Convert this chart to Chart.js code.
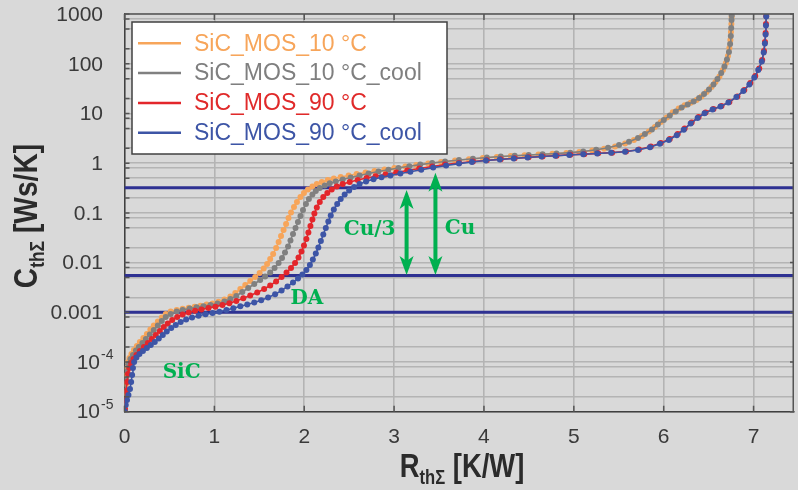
<!DOCTYPE html>
<html>
<head>
<meta charset="utf-8">
<script src="https://cdn.jsdelivr.net/npm/chart.js@4/dist/chart.umd.min.js"></script>
<style>
  html, body { margin: 0; padding: 0; background: #d9d9d9; overflow: hidden; }
  #wrap { width: 798px; height: 490px; }
</style>
</head>
<body>
<div id="wrap"><canvas id="chart" width="798" height="490"></canvas></div>
<script>
// Cumulative structure functions: thermal resistance R [K/W] vs. thermal capacitance C [Ws/K]
const seriesLabels = ['SiC_MOS_10 °C', 'SiC_MOS_10 °C_cool', 'SiC_MOS_90 °C', 'SiC_MOS_90 °C_cool'];
const seriesColors = ['#f7a55a', '#808080', '#e3262b', '#3d55a6'];
const legendTextColors = ['#f7a55a', '#7f7f7f', '#e02a2a', '#3d55a6'];

const mos10 = [
  [0.003,1.03e-5],[0.008,1.57e-5],[0.012,2.38e-5],[0.017,3.61e-5],[0.022,5.47e-5],[0.030,7.57e-5],
  [0.041,1.0e-4],[0.055,1.20e-4],[0.077,1.45e-4],[0.105,1.74e-4],[0.138,2.10e-4],[0.171,2.52e-4],
  [0.210,3.04e-4],[0.249,3.66e-4],[0.288,4.51e-4],[0.326,5.42e-4],[0.371,6.53e-4],[0.415,7.86e-4],
  [0.459,9.25e-4],[0.514,1.04e-3],[0.581,1.11e-3],[0.647,1.18e-3],[0.714,1.23e-3],[0.780,1.29e-3],
  [0.846,1.35e-3],[0.913,1.43e-3],[0.979,1.51e-3],[1.045,1.63e-3],[1.112,1.81e-3],[1.178,2.08e-3],
  [1.233,2.44e-3],[1.289,2.94e-3],[1.344,3.54e-3],[1.399,4.26e-3],[1.455,5.13e-3],[1.504,6.18e-3],
  [1.549,7.61e-3],[1.587,9.37e-3],[1.621,0.0118],[1.654,0.0149],[1.687,0.0197],[1.715,0.0260],
  [1.742,0.0343],[1.770,0.0453],[1.798,0.0598],[1.825,0.0789],[1.853,0.102],[1.886,0.131],
  [1.919,0.166],[1.958,0.209],[1.997,0.251],[2.041,0.296],[2.091,0.340],[2.140,0.381],
  [2.196,0.418],[2.262,0.459],[2.329,0.492],[2.406,0.527],[2.494,0.566],[2.583,0.607],
  [2.682,0.650],[2.782,0.697],[2.893,0.747],[3.003,0.800],[3.125,0.859],[3.247,0.920],
  [3.379,0.986],[3.523,1.057],[3.678,1.133],[3.833,1.203],[3.988,1.27],[4.143,1.33],
  [4.298,1.40],[4.452,1.44],[4.607,1.50],[4.762,1.55],[4.917,1.60],[5.061,1.68],
  [5.205,1.80],[5.337,1.95],[5.459,2.17],[5.570,2.49],[5.669,2.93],[5.758,3.53],
  [5.835,4.34],[5.902,5.35],[5.968,6.74],[6.034,8.31],[6.101,10.6],[6.167,12.6],
  [6.233,14.6],[6.300,16.5],[6.366,18.7],[6.421,22.0],[6.477,27.1],[6.532,34.2],
  [6.576,43.0],[6.620,55.5],[6.659,75.0],[6.692,104],[6.715,143],[6.731,208],
  [6.742,301],[6.748,436],[6.753,632],[6.756,875]
];

const mos10cool = [
  [0.003,1.03e-5],[0.009,1.72e-5],[0.014,2.73e-5],[0.021,4.35e-5],[0.030,6.59e-5],[0.044,9.12e-5],
  [0.066,1.15e-4],[0.094,1.38e-4],[0.127,1.70e-4],[0.160,2.00e-4],[0.199,2.41e-4],[0.238,2.90e-4],
  [0.282,3.57e-4],[0.326,4.40e-4],[0.371,5.42e-4],[0.415,6.68e-4],[0.459,8.04e-4],[0.514,9.25e-4],
  [0.581,1.04e-3],[0.647,1.11e-3],[0.725,1.19e-3],[0.802,1.26e-3],[0.879,1.33e-3],[0.957,1.40e-3],
  [1.034,1.50e-3],[1.112,1.65e-3],[1.178,1.85e-3],[1.244,2.13e-3],[1.311,2.56e-3],[1.377,3.08e-3],
  [1.444,3.71e-3],[1.510,4.47e-3],[1.565,5.25e-3],[1.621,6.32e-3],[1.670,7.79e-3],[1.715,9.81e-3],
  [1.753,0.0124],[1.786,0.0160],[1.820,0.0211],[1.847,0.0279],[1.875,0.0376],[1.903,0.0497],
  [1.930,0.0656],[1.958,0.0867],[1.986,0.114],[2.019,0.151],[2.052,0.190],[2.091,0.234],
  [2.129,0.276],[2.173,0.317],[2.229,0.356],[2.284,0.394],[2.351,0.429],[2.428,0.470],
  [2.517,0.515],[2.616,0.566],[2.716,0.621],[2.826,0.681],[2.937,0.737],[3.048,0.800],
  [3.169,0.871],[3.291,0.937],[3.424,1.01],[3.567,1.08],[3.722,1.16],[3.877,1.23],
  [4.032,1.30],[4.187,1.36],[4.342,1.41],[4.497,1.46],[4.652,1.51],[4.807,1.57],
  [4.961,1.63],[5.105,1.72],[5.249,1.86],[5.381,2.04],[5.503,2.32],[5.614,2.70],
  [5.714,3.21],[5.791,3.87],[5.869,4.76],[5.935,6.01],[6.001,7.40],[6.068,9.12],
  [6.134,11.0],[6.200,13.2],[6.267,15.2],[6.333,17.4],[6.394,20.5],[6.449,24.7],
  [6.504,30.4],[6.554,38.3],[6.598,49.4],[6.640,65.3],[6.676,88.3],[6.704,122],
  [6.726,173],[6.739,250],[6.747,362],[6.751,525],[6.755,761],[6.757,937]
];

const mos90 = [
  [0.006,1.13e-5],[0.011,1.72e-5],[0.019,2.61e-5],[0.028,3.96e-5],[0.039,5.74e-5],[0.053,7.57e-5],
  [0.072,9.55e-5],[0.100,1.15e-4],[0.133,1.38e-4],[0.171,1.66e-4],[0.216,2.00e-4],[0.260,2.41e-4],
  [0.304,2.90e-4],[0.348,3.49e-4],[0.393,4.21e-4],[0.437,5.06e-4],[0.481,5.95e-4],[0.531,7.00e-4],
  [0.586,8.04e-4],[0.647,9.04e-4],[0.714,9.91e-4],[0.785,1.07e-3],[0.857,1.14e-3],[0.935,1.22e-3],
  [1.012,1.30e-3],[1.090,1.40e-3],[1.167,1.52e-3],[1.244,1.69e-3],[1.322,1.91e-3],[1.399,2.18e-3],
  [1.477,2.50e-3],[1.554,2.94e-3],[1.621,3.46e-3],[1.687,4.17e-3],[1.748,5.13e-3],[1.803,6.32e-3],
  [1.853,7.79e-3],[1.898,9.81e-3],[1.936,0.0127],[1.969,0.0167],[1.997,0.0221],[2.024,0.0299],
  [2.046,0.0404],[2.069,0.0545],[2.091,0.0736],[2.113,0.0973],[2.140,0.129],[2.173,0.166],
  [2.212,0.209],[2.257,0.251],[2.306,0.296],[2.362,0.340],[2.428,0.381],[2.506,0.418],
  [2.594,0.459],[2.694,0.504],[2.793,0.547],[2.904,0.593],[3.025,0.650],[3.147,0.713],
  [3.280,0.782],[3.424,0.859],[3.567,0.937],[3.722,1.01],[3.877,1.08],[4.032,1.14],
  [4.187,1.20],[4.342,1.26],[4.497,1.31],[4.652,1.37],[4.807,1.42],[4.961,1.48],
  [5.116,1.52],[5.271,1.58],[5.426,1.63],[5.581,1.72],[5.725,1.89],[5.857,2.17],
  [5.968,2.55],[6.068,3.07],[6.156,3.87],[6.233,4.99],[6.311,6.59],[6.388,8.51],
  [6.466,10.5],[6.554,12.3],[6.643,14.2],[6.731,17.0],[6.820,22.0],[6.897,29.7],
  [6.964,41.1],[7.019,56.9],[7.063,80.4],[7.096,119],[7.116,181],[7.127,275],
  [7.134,417],[7.138,632],[7.141,916]
];

const mos90cool = [
  [0.003,1.01e-5],[0.014,1.36e-5],[0.028,1.72e-5],[0.044,2.17e-5],[0.061,2.86e-5],[0.074,3.96e-5],
  [0.085,5.47e-5],[0.094,7.57e-5],[0.107,1.0e-4],[0.133,1.23e-4],[0.166,1.45e-4],[0.205,1.66e-4],
  [0.249,1.91e-4],[0.293,2.20e-4],[0.337,2.52e-4],[0.382,2.97e-4],[0.426,3.49e-4],[0.470,4.11e-4],
  [0.520,4.83e-4],[0.570,5.55e-4],[0.625,6.38e-4],[0.686,7.16e-4],[0.752,7.86e-4],[0.824,8.51e-4],
  [0.902,9.12e-4],[0.979,9.68e-4],[1.056,1.03e-3],[1.134,1.11e-3],[1.211,1.21e-3],[1.289,1.32e-3],
  [1.366,1.44e-3],[1.444,1.57e-3],[1.521,1.75e-3],[1.598,1.99e-3],[1.676,2.30e-3],[1.748,2.75e-3],
  [1.814,3.31e-3],[1.875,3.98e-3],[1.931,4.79e-3],[1.980,5.76e-3],[2.024,7.10e-3],[2.063,8.95e-3],
  [2.096,0.0115],[2.129,0.0152],[2.157,0.0201],[2.185,0.0272],[2.212,0.0367],[2.240,0.0497],
  [2.268,0.0671],[2.295,0.0887],[2.329,0.117],[2.367,0.151],[2.406,0.190],[2.450,0.234],
  [2.500,0.282],[2.555,0.332],[2.616,0.381],[2.688,0.429],[2.771,0.474],[2.860,0.520],
  [2.959,0.566],[3.070,0.618],[3.181,0.675],[3.302,0.740],[3.435,0.815],[3.579,0.899],
  [3.722,0.982],[3.866,1.06],[4.021,1.13],[4.176,1.19],[4.331,1.24],[4.485,1.30],
  [4.640,1.36],[4.795,1.41],[4.950,1.46],[5.105,1.51],[5.260,1.57],[5.415,1.62],
  [5.570,1.70],[5.714,1.84],[5.847,2.10],[5.957,2.46],[6.057,2.93],[6.145,3.66],
  [6.223,4.70],[6.300,6.29],[6.377,8.11],[6.455,10.1],[6.544,12.0],[6.632,13.8],
  [6.720,16.6],[6.809,21.5],[6.886,28.4],[6.953,38.3],[7.008,53.0],[7.052,75.0],
  [7.091,111],[7.113,169],[7.126,256],[7.134,389],[7.138,590],[7.141,895]
];

// Reference capacitance levels (horizontal lines)
const levelLines = [0.32, 0.0055, 0.001];

// Layer annotations: text with its position in data coordinates
const layerLabels = ['SiC', 'DA', 'Cu/3', 'Cu'];
const layerLabelX = [0.636, 2.03, 2.727, 3.733];
const layerLabelY = [6.0e-5, 1.85e-3, 0.0453, 0.0474];

// Double arrows: x position, upper and lower end
const arrowX = [3.139, 3.46];
const arrowTop = [0.29, 0.64];
const arrowBottom = [0.0056, 0.0056];

// Axes
const xMin = 0, xMax = 7.45;
const yMin = 1e-5, yMax = 1000;
const xTickValues = [0, 1, 2, 3, 4, 5, 6, 7];
const xTickLabels = ['0', '1', '2', '3', '4', '5', '6', '7'];
const yLabelValues = [1e-5, 1e-4, 1e-3, 0.01, 0.1, 1, 10, 100, 1000];
const yTickLabels = ['10^-5', '10^-4', '0.001', '0.01', '0.1', '1', '10', '100', '1000'];
const yGridValues = [
  1e-5, 2e-5, 5e-5, 8e-5, 1e-4, 2e-4, 5e-4, 8e-4, 1e-3, 2e-3, 5e-3, 8e-3,
  0.01, 0.02, 0.05, 0.08, 0.1, 0.2, 0.5, 0.8, 1, 2, 5, 8,
  10, 20, 50, 80, 100, 200, 500, 800, 1000
];

const GREEN = '#00b050';
const NAVY = '#2e3192';
const AXIS = '#404040';
const GRID = '#b4b4b4';
const TEXT = '#3a3a3a';
const SANS = '"Liberation Sans", Arial, sans-serif';

const toPoints = arr => arr.map(([x, y]) => ({ x, y }));

const seriesData = [mos10, mos10cool, mos90, mos90cool];
const datasets = seriesData.map((d, i) => ({
  label: seriesLabels[i],
  data: toPoints(d),
  borderColor: seriesColors[i],
  backgroundColor: seriesColors[i],
  pointBackgroundColor: seriesColors[i],
  pointBorderWidth: 0,
  pointRadius: 3,
  borderWidth: 1.6,
  tension: 0,
  order: 4 - i
}));
levelLines.forEach(v => datasets.push({
  label: '',
  data: [{ x: xMin, y: v }, { x: xMax, y: v }],
  borderColor: NAVY,
  borderWidth: 3,
  pointRadius: 0,
  order: 10,
  isLevel: true
}));

// Draws a run of text pieces (main text, subscripts) with a narrowed bold face
function drawRich(ctx, parts, scaleX) {
  let total = 0;
  parts.forEach(p => { ctx.font = 'bold ' + p.size + 'px ' + SANS; p.w = ctx.measureText(p.t).width; total += p.w; });
  ctx.save();
  ctx.scale(scaleX, 1);
  let x = -total / 2;
  ctx.textAlign = 'left';
  ctx.textBaseline = 'alphabetic';
  parts.forEach(p => { ctx.font = 'bold ' + p.size + 'px ' + SANS; ctx.fillText(p.t, x, p.dy); x += p.w; });
  ctx.restore();
}

function doubleArrow(ctx, x, yTop, yBot) {
  const hw = 7, hl = 19, notch = 5, sw = 2;
  ctx.fillStyle = GREEN;
  ctx.fillRect(x - sw, yTop + hl - notch, sw * 2, (yBot - yTop) - 2 * (hl - notch));
  ctx.beginPath();
  ctx.moveTo(x, yTop); ctx.lineTo(x + hw, yTop + hl); ctx.lineTo(x, yTop + hl - notch); ctx.lineTo(x - hw, yTop + hl);
  ctx.closePath(); ctx.fill();
  ctx.beginPath();
  ctx.moveTo(x, yBot); ctx.lineTo(x + hw, yBot - hl); ctx.lineTo(x, yBot - hl + notch); ctx.lineTo(x - hw, yBot - hl);
  ctx.closePath(); ctx.fill();
}

const decorations = {
  id: 'decorations',
  beforeDraw(chart) {
    const ctx = chart.ctx;
    ctx.save();
    ctx.fillStyle = '#d9d9d9';
    ctx.fillRect(0, 0, chart.width, chart.height);
    ctx.restore();
  },
  afterDraw(chart) {
    const ctx = chart.ctx;
    const xs = chart.scales.x, ys = chart.scales.y;
    const a = chart.chartArea;
    ctx.save();

    // frame: top and right edges
    ctx.strokeStyle = '#555555';
    ctx.lineWidth = 1.5;
    ctx.beginPath();
    ctx.moveTo(a.left, a.top); ctx.lineTo(a.right, a.top);
    ctx.moveTo(a.right - 0.75, a.top); ctx.lineTo(a.right - 0.75, a.bottom);
    ctx.stroke();

    // inward tick marks
    ctx.beginPath();
    xTickValues.forEach(v => {
      const px = xs.getPixelForValue(v);
      ctx.moveTo(px, a.bottom); ctx.lineTo(px, a.bottom - 6);
      ctx.moveTo(px, a.top); ctx.lineTo(px, a.top + 6);
    });
    yGridValues.forEach(v => {
      const py = ys.getPixelForValue(v);
      ctx.moveTo(a.left, py); ctx.lineTo(a.left + 5, py);
    });
    yLabelValues.forEach(v => {
      const py = ys.getPixelForValue(v);
      ctx.moveTo(a.right - 4, py); ctx.lineTo(a.right, py);
    });
    ctx.stroke();

    // y tick labels
    ctx.fillStyle = TEXT;
    ctx.textBaseline = 'middle';
    yLabelValues.forEach((v, i) => {
      const py = ys.getPixelForValue(v) + 1;
      const lab = yTickLabels[i];
      if (lab.includes('^')) {
        const [b, e] = lab.split('^');
        ctx.font = '21px ' + SANS; ctx.textAlign = 'right';
        ctx.fillText(b, 100, py);
        ctx.font = '14px ' + SANS; ctx.textAlign = 'left';
        ctx.fillText(e, 101, py - 8);
      } else {
        ctx.font = '21px ' + SANS; ctx.textAlign = 'right';
        ctx.fillText(lab, 103, py);
      }
    });

    // x tick labels
    ctx.font = '21px ' + SANS;
    ctx.textAlign = 'center';
    xTickValues.forEach((v, i) => ctx.fillText(xTickLabels[i], xs.getPixelForValue(v), 437));

    // axis titles
    ctx.fillStyle = '#2b2b2b';
    ctx.save();
    ctx.translate(462, 477);
    drawRich(ctx, [{ t: 'R', size: 33, dy: 0 }, { t: 'thΣ', size: 20, dy: 7 }, { t: ' [K/W]', size: 33, dy: 0 }], 0.83);
    ctx.restore();
    ctx.save();
    ctx.translate(37, 216);
    ctx.rotate(-Math.PI / 2);
    drawRich(ctx, [{ t: 'C', size: 34, dy: 0 }, { t: 'thΣ', size: 21, dy: 7 }, { t: ' [Ws/K]', size: 34, dy: 0 }], 0.83);
    ctx.restore();

    // layer annotations and arrows
    ctx.fillStyle = GREEN;
    ctx.font = 'bold 20px "DejaVu Serif", serif';
    ctx.textAlign = 'center';
    ctx.textBaseline = 'middle';
    layerLabels.forEach((t, i) => ctx.fillText(t, xs.getPixelForValue(layerLabelX[i]), ys.getPixelForValue(layerLabelY[i])));
    arrowX.forEach((v, i) => doubleArrow(ctx, xs.getPixelForValue(v), ys.getPixelForValue(arrowTop[i]), ys.getPixelForValue(arrowBottom[i])));

    // legend
    ctx.fillStyle = '#ffffff';
    ctx.fillRect(132, 22, 315, 132);
    ctx.strokeStyle = '#404040';
    ctx.lineWidth = 1.5;
    ctx.strokeRect(132, 22, 315, 132);
    ctx.font = '23px ' + SANS;
    ctx.textAlign = 'left';
    ctx.textBaseline = 'middle';
    chart.data.datasets.filter(d => !d.isLevel).forEach((d, i) => {
      const ly = 43.3 + i * 29.8;
      ctx.strokeStyle = d.borderColor;
      ctx.lineWidth = 2.5;
      ctx.beginPath(); ctx.moveTo(138, ly); ctx.lineTo(181, ly); ctx.stroke();
      ctx.fillStyle = legendTextColors[i];
      ctx.fillText(d.label, 194, ly + 1);
    });

    ctx.restore();
  }
};

new Chart(document.getElementById('chart'), {
  type: 'line',
  data: { datasets },
  options: {
    responsive: false,
    animation: false,
    devicePixelRatio: 1,
    layout: { padding: { top: 14.1, right: 0, bottom: 0, left: 0 } },
    plugins: { legend: { display: false }, tooltip: { enabled: false } },
    scales: {
      x: {
        type: 'linear', min: xMin, max: xMax,
        afterBuildTicks: s => { s.ticks = xTickValues.map(v => ({ value: v })); },
        afterFit: s => { s.height = 78.3; },
        ticks: { display: false },
        grid: { color: GRID, lineWidth: 1.6, drawTicks: false },
        border: { display: true, color: AXIS, width: 1.5 }
      },
      y: {
        type: 'logarithmic', min: yMin, max: yMax,
        afterBuildTicks: s => { s.ticks = yGridValues.map(v => ({ value: v })); },
        afterFit: s => { s.width = 124.5; },
        ticks: { display: false },
        grid: { color: GRID, lineWidth: 1.6, drawTicks: false },
        border: { display: true, color: AXIS, width: 1.5 }
      }
    }
  },
  plugins: [decorations]
});
</script>
</body>
</html>
